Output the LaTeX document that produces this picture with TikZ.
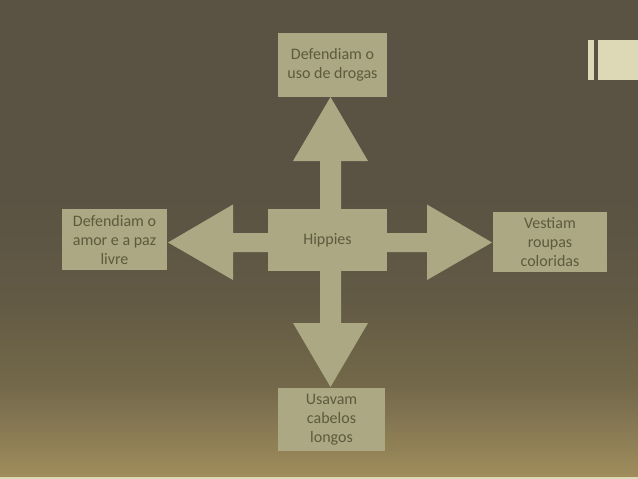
\documentclass[tikz,border=0pt]{standalone}
\usepackage{fontspec}
\setmainfont{Carlito}
\definecolor{bgtop}{HTML}{5A5343}
\definecolor{bgc1}{HTML}{635A45}
\definecolor{bgc2}{HTML}{736849}
\definecolor{bgc3}{HTML}{7A6E4E}
\definecolor{bgc4}{HTML}{9C8A5A}
\definecolor{bgbot}{HTML}{A08E5C}
\definecolor{khaki}{HTML}{ABA883}
\definecolor{txt}{HTML}{5E5A3C}
\definecolor{deco}{HTML}{DDD8B5}
\pgfdeclareverticalshading{bgshade}{100bp}{color(0bp)=(bgbot); color(25bp)=(bgbot);
  color(25.9bp)=(bgc4); color(33.2bp)=(bgc3); color(34.8bp)=(bgc2); color(43.7bp)=(bgc1);
  color(54.1bp)=(bgtop); color(75bp)=(bgtop); color(100bp)=(bgtop)}
\tikzset{
  box/.style={fill=khaki, draw=none, inner sep=0pt, align=center, text=txt,
    font=\fontsize{16}{19}\selectfont},
  quad/.style={fill=khaki, draw=none}
}
\begin{document}
\begin{tikzpicture}[x=1pt,y=-1pt]
\useasboundingbox (0,0) rectangle (638,479);
\shade[shading=bgshade] (0,0) rectangle (638,479);
\fill[deco] (0,476.5) rectangle (638,479);
% decoration top right
\fill[deco] (588,40) rectangle (594,80);
\fill[deco] (598,40) rectangle (638,80);
% quad arrow
\fill[quad] (330.5,97) -- (368,161) -- (341,161) -- (341,233) -- (427,233) -- (427,204.5)
  -- (492,242.5) -- (427,280) -- (427,252) -- (341,252) -- (341,323) -- (368,323)
  -- (330.5,387) -- (293,323) -- (320,323) -- (320,252) -- (233,252) -- (233,280)
  -- (168,242.5) -- (233,204.5) -- (233,233) -- (320,233) -- (320,161) -- (293,161) -- cycle;
% boxes
\node[box, minimum width=109pt, minimum height=64pt] (top) at (332.5,65) {Defendiam o\\uso de drogas};
\node[box, minimum width=105pt, minimum height=61pt] (left) at (114.5,239.5) {Defendiam o\\amor e a paz\\livre};
\node[box, minimum width=119pt, minimum height=62pt] (center) at (327.5,240) {Hippies};
\node[box, minimum width=114pt, minimum height=60pt] (right) at (550,242) {Vestiam\\roupas\\coloridas};
\node[box, minimum width=107pt, minimum height=63pt] (bottom) at (331.5,419.5) {Usavam\\cabelos\\longos};
\end{tikzpicture}
\end{document}
